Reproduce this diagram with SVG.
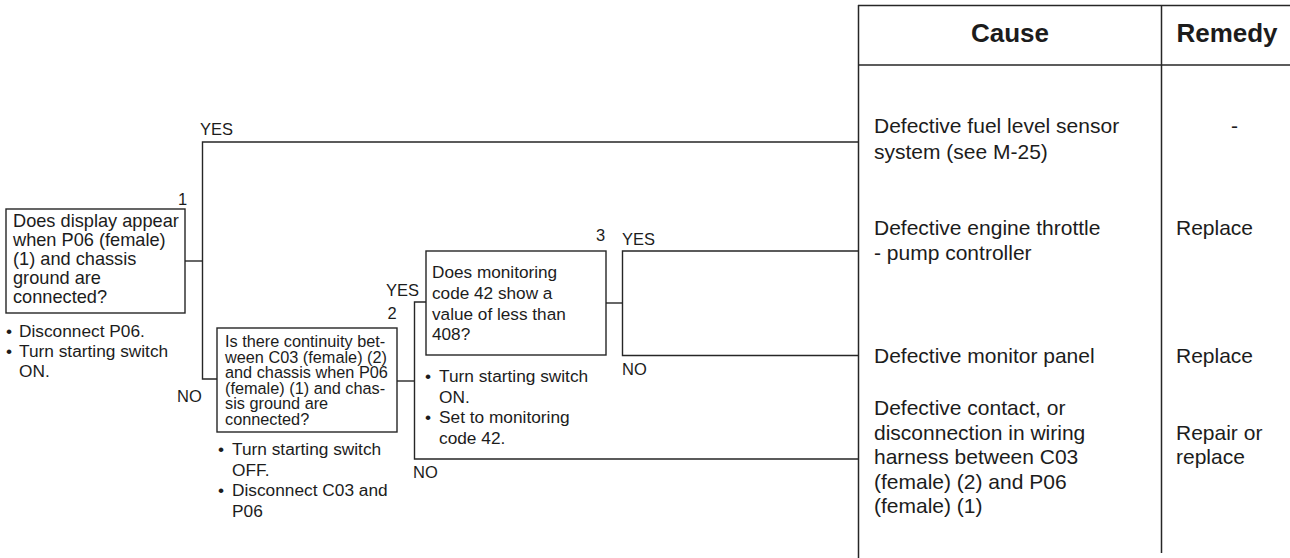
<svg xmlns="http://www.w3.org/2000/svg" width="1290" height="558" viewBox="0 0 1290 558">
<style>
  text { font-family: "Liberation Sans", Arial, Helvetica, sans-serif; fill: #1c1c1c; }
  .box { fill: #ffffff; stroke: #262626; stroke-width: 1.4; }
  .ln { fill: none; stroke: #262626; stroke-width: 1.4; }
  .tbl { fill: none; stroke: #262626; stroke-width: 1.5; }
  .q1 { font-size: 18.2px; }
  .q2 { font-size: 16.3px; }
  .q3 { font-size: 17.2px; }
  .bl { font-size: 17.3px; }
  .lab { font-size: 16.5px; }
  .hd { font-size: 26px; font-weight: bold; text-anchor: middle; }
  .ct { font-size: 21px; }
</style>
<rect x="0" y="0" width="1290" height="558" fill="#ffffff"/>

<g id="table">
  <line class="tbl" x1="858.5" y1="5" x2="858.5" y2="558"/>
  <line class="tbl" x1="858" y1="5.5" x2="1290" y2="5.5"/>
  <line class="tbl" x1="858" y1="65" x2="1290" y2="65"/>
  <line class="tbl" x1="1161.5" y1="5" x2="1161.5" y2="553"/>
  <text class="hd" x="1010" y="42">Cause</text>
  <text class="hd" x="1227" y="42">Remedy</text>
</g>

<g id="connectors">
  <polyline class="ln" points="185,261 202.5,261"/>
  <polyline class="ln" points="858,142 202.5,142 202.5,379 217,379"/>
  <polyline class="ln" points="397,381 414.5,381"/>
  <polyline class="ln" points="426,302 414.5,302 414.5,459 858,459"/>
  <polyline class="ln" points="606,303 622.5,303"/>
  <polyline class="ln" points="858,251 622.5,251 622.5,355.5 858,355.5"/>
  <text class="lab" x="200" y="135">YES</text>
  <text class="lab" x="177" y="402">NO</text>
  <text class="lab" x="386" y="296">YES</text>
  <text class="lab" x="413" y="478">NO</text>
  <text class="lab" x="622" y="245">YES</text>
  <text class="lab" x="622" y="375">NO</text>
</g>

<g id="node1">
  <rect class="box" x="6" y="209" width="179" height="104"/>
  <text class="lab" x="178" y="205">1</text>
  <text class="q1">
    <tspan x="13" y="227">Does display appear</tspan>
    <tspan x="13" y="246">when P06 (female)</tspan>
    <tspan x="13" y="265">(1) and chassis</tspan>
    <tspan x="13" y="284">ground are</tspan>
    <tspan x="13" y="303">connected?</tspan>
  </text>
  <text class="bl">
    <tspan x="6" y="337">•</tspan>
    <tspan x="6" y="357">•</tspan>
  </text>
  <text class="bl">
    <tspan x="19" y="337">Disconnect P06.</tspan>
    <tspan x="19" y="357">Turn starting switch</tspan>
    <tspan x="19" y="377">ON.</tspan>
  </text>
</g>

<g id="node2">
  <rect class="box" x="217" y="328" width="180" height="104"/>
  <text class="lab" x="387.5" y="319">2</text>
  <text class="q2">
    <tspan x="225" y="347">Is there continuity bet-</tspan>
    <tspan x="225" y="362.5">ween C03 (female) (2)</tspan>
    <tspan x="225" y="378">and chassis when P06</tspan>
    <tspan x="225" y="393.5">(female) (1) and chas-</tspan>
    <tspan x="225" y="409">sis ground are</tspan>
    <tspan x="225" y="424.5">connected?</tspan>
  </text>
  <text class="bl">
    <tspan x="218" y="455">•</tspan>
    <tspan x="218" y="496">•</tspan>
  </text>
  <text class="bl">
    <tspan x="232" y="455">Turn starting switch</tspan>
    <tspan x="232" y="475.5">OFF.</tspan>
    <tspan x="232" y="496">Disconnect C03 and</tspan>
    <tspan x="232" y="516.5">P06</tspan>
  </text>
</g>

<g id="node3">
  <rect class="box" x="426" y="251" width="180" height="104"/>
  <text class="lab" x="596" y="241">3</text>
  <text class="q3">
    <tspan x="432" y="278">Does monitoring</tspan>
    <tspan x="432" y="299">code 42 show a</tspan>
    <tspan x="432" y="320">value of less than</tspan>
    <tspan x="432" y="340">408?</tspan>
  </text>
  <text class="bl">
    <tspan x="425" y="382">•</tspan>
    <tspan x="425" y="423">•</tspan>
  </text>
  <text class="bl">
    <tspan x="439" y="382">Turn starting switch</tspan>
    <tspan x="439" y="402.5">ON.</tspan>
    <tspan x="439" y="423">Set to monitoring</tspan>
    <tspan x="439" y="443.5">code 42.</tspan>
  </text>
</g>

<g id="result1">
  <text class="ct">
    <tspan x="874" y="133">Defective fuel level sensor</tspan>
    <tspan x="874" y="158.5">system (see M-25)</tspan>
  </text>
  <text class="ct" x="1231" y="133">-</text>
</g>

<g id="result2">
  <text class="ct">
    <tspan x="874" y="235">Defective engine throttle</tspan>
    <tspan x="874" y="260">- pump controller</tspan>
  </text>
  <text class="ct" x="1176" y="235">Replace</text>
</g>

<g id="result3">
  <text class="ct" x="874" y="363">Defective monitor panel</text>
  <text class="ct" x="1176" y="363">Replace</text>
</g>

<g id="result4">
  <text class="ct">
    <tspan x="874" y="415">Defective contact, or</tspan>
    <tspan x="874" y="439.5">disconnection in wiring</tspan>
    <tspan x="874" y="464">harness between C03</tspan>
    <tspan x="874" y="488.5">(female) (2) and P06</tspan>
    <tspan x="874" y="513">(female) (1)</tspan>
  </text>
  <text class="ct">
    <tspan x="1176" y="439.5">Repair or</tspan>
    <tspan x="1176" y="464">replace</tspan>
  </text>
</g>
</svg>
